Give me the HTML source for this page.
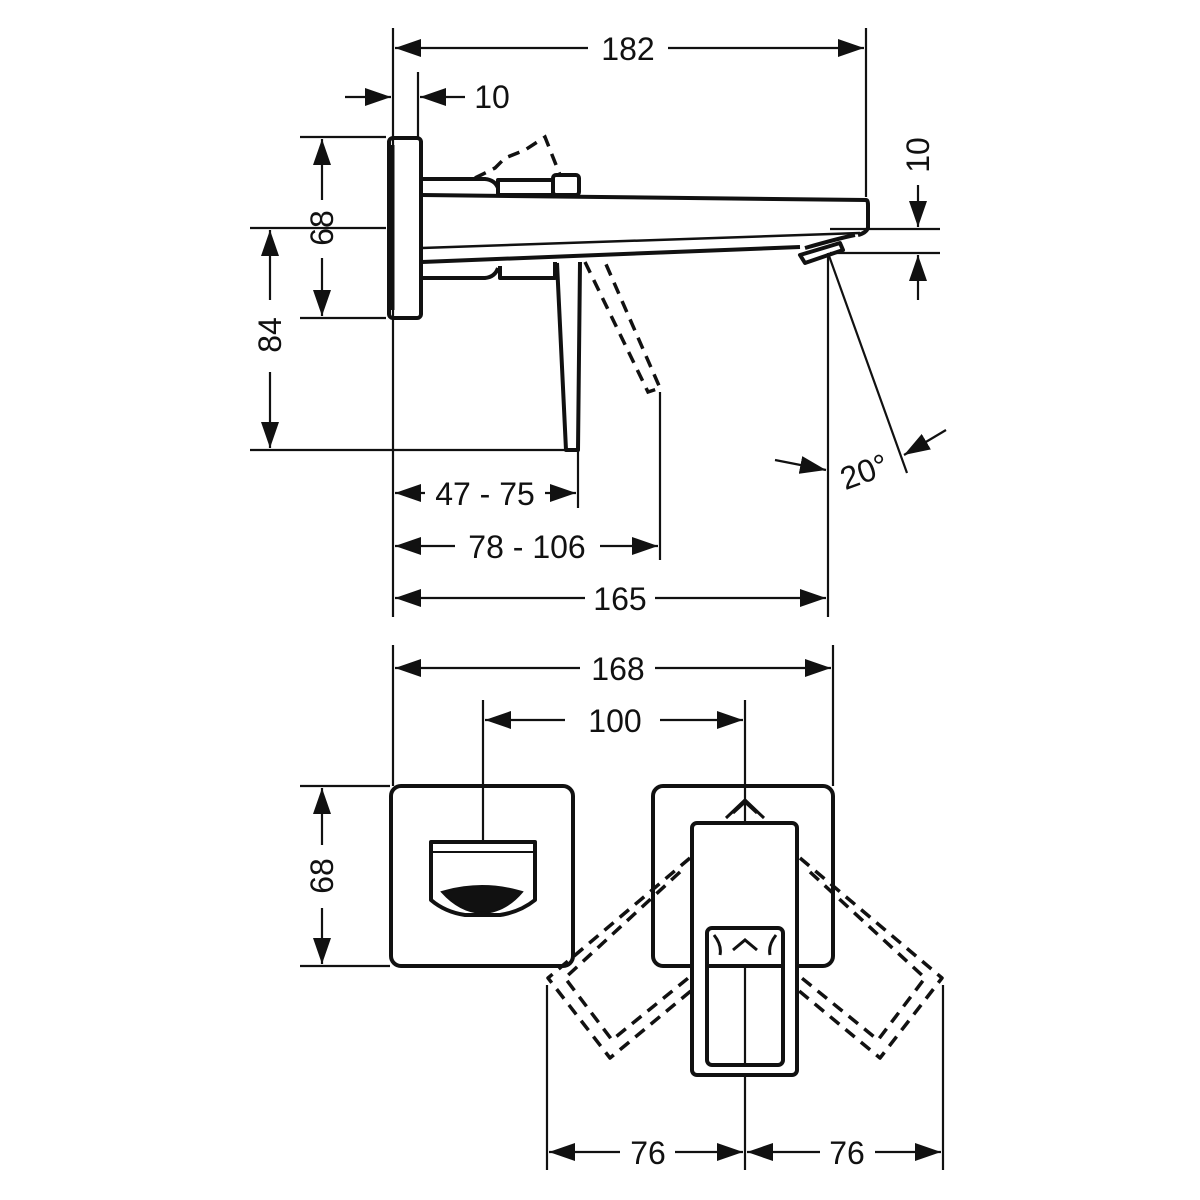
<!DOCTYPE html>
<html><head><meta charset="utf-8"><style>
html,body{margin:0;padding:0;background:#fff}
svg{display:block}
text{font-family:"Liberation Sans",sans-serif;font-size:32px;fill:#111}
</style></head><body>
<svg width="1200" height="1200" viewBox="0 0 1200 1200" xmlns="http://www.w3.org/2000/svg">
<defs>
<marker id="a" viewBox="0 0 26 18" refX="26" refY="9" markerWidth="26" markerHeight="18" markerUnits="userSpaceOnUse" orient="auto-start-reverse"><path d="M0,0 L26,9 L0,18 z" fill="#111"/></marker>
</defs>
<g stroke="#111" fill="none">
<g stroke-width="2.2">
<line x1="393" y1="28" x2="393" y2="617"/>
<line x1="866" y1="28" x2="866" y2="197"/>
<line x1="418" y1="72" x2="418" y2="137"/>
<line x1="300" y1="137" x2="386" y2="137"/>
<line x1="300" y1="318" x2="386" y2="318"/>
<line x1="250" y1="228" x2="386" y2="228"/>
<line x1="250" y1="450" x2="578" y2="450"/>
<line x1="578" y1="450" x2="578" y2="508"/>
<line x1="660" y1="392" x2="660" y2="560"/>
<line x1="828" y1="253" x2="828" y2="617"/>
<line x1="828" y1="253" x2="907" y2="473"/>
<line x1="830" y1="229" x2="940" y2="229"/>
<line x1="830" y1="253" x2="940" y2="253"/>
<line x1="393" y1="645" x2="393" y2="786"/>
<line x1="833" y1="645" x2="833" y2="786"/>
<line x1="483" y1="700" x2="483" y2="840"/>
<line x1="745" y1="700" x2="745" y2="1170"/>
<line x1="300" y1="786" x2="390" y2="786"/>
<line x1="300" y1="966" x2="390" y2="966"/>
<line x1="547" y1="985" x2="547" y2="1170"/>
<line x1="943" y1="985" x2="943" y2="1170"/>
</g>
<g stroke-width="2.2">
<line x1="588" y1="48" x2="395" y2="48" marker-end="url(#a)"/>
<line x1="668" y1="48" x2="864" y2="48" marker-end="url(#a)"/>
<line x1="345" y1="97" x2="391" y2="97" marker-end="url(#a)"/>
<line x1="465" y1="97" x2="420" y2="97" marker-end="url(#a)"/>
<line x1="322" y1="200" x2="322" y2="139" marker-end="url(#a)"/>
<line x1="322" y1="258" x2="322" y2="316" marker-end="url(#a)"/>
<line x1="270" y1="300" x2="270" y2="230" marker-end="url(#a)"/>
<line x1="270" y1="372" x2="270" y2="448" marker-end="url(#a)"/>
<line x1="918" y1="185" x2="918" y2="227" marker-end="url(#a)"/>
<line x1="918" y1="300" x2="918" y2="255" marker-end="url(#a)"/>
<line x1="775" y1="460" x2="826" y2="470" marker-end="url(#a)"/>
<line x1="946" y1="430" x2="904" y2="455" marker-end="url(#a)"/>
<line x1="425" y1="493" x2="395" y2="493" marker-end="url(#a)"/>
<line x1="545" y1="493" x2="576" y2="493" marker-end="url(#a)"/>
<line x1="455" y1="546" x2="395" y2="546" marker-end="url(#a)"/>
<line x1="600" y1="546" x2="658" y2="546" marker-end="url(#a)"/>
<line x1="585" y1="598" x2="395" y2="598" marker-end="url(#a)"/>
<line x1="655" y1="598" x2="826" y2="598" marker-end="url(#a)"/>
<line x1="580" y1="668" x2="395" y2="668" marker-end="url(#a)"/>
<line x1="655" y1="668" x2="831" y2="668" marker-end="url(#a)"/>
<line x1="565" y1="720" x2="485" y2="720" marker-end="url(#a)"/>
<line x1="660" y1="720" x2="743" y2="720" marker-end="url(#a)"/>
<line x1="322" y1="845" x2="322" y2="788" marker-end="url(#a)"/>
<line x1="322" y1="908" x2="322" y2="964" marker-end="url(#a)"/>
<line x1="620" y1="1152" x2="549" y2="1152" marker-end="url(#a)"/>
<line x1="675" y1="1152" x2="743" y2="1152" marker-end="url(#a)"/>
<line x1="820" y1="1152" x2="747" y2="1152" marker-end="url(#a)"/>
<line x1="875" y1="1152" x2="941" y2="1152" marker-end="url(#a)"/>
</g>
<g stroke-width="4" stroke-linejoin="round">
<rect x="389" y="138" width="32" height="180" rx="4"/>
<line x1="391" y1="145" x2="391" y2="310" stroke-width="7"/>
<path d="M422,179 L485,179 Q495,180 498,188 L498,195"/>
<rect x="498" y="180" width="55" height="15"/>
<rect x="553" y="175" width="26" height="20" rx="3"/>
<path d="M422,195 L866,200 Q868,200 868,205 L868,228 Q866,233 858,235"/>
<path d="M422,262 L800,247"/>
<path d="M500,266 L500,278 L555,278 L555,262"/>
<path d="M422,278 L485,278 Q495,277 498,268"/>
<path d="M800,255 L840,243 L843,250 L805,263 Z"/>
<path d="M805,248 Q840,238 855,235"/>
<path d="M557,263 L566,450 L578,450 L580,262"/>
</g>
<path d="M422,248 L860,233" stroke-width="2.5"/>
<g stroke-width="3.5" stroke-dasharray="12,8">
<path d="M475,178 L495,168 L505,158 L525,150 L545,137 L560,175"/>
<path d="M585,262 L648,392 L660,388 L605,262"/>
</g>
<g stroke-width="4" stroke-linejoin="round">
<rect x="391" y="786" width="182" height="180" rx="10"/>
<rect x="653" y="786" width="180" height="180" rx="10"/>
<path d="M431,842 L535,842 L535,900 Q520,912 500,915 L465,915 Q445,912 431,900 Z"/>
<rect x="692" y="823" width="105" height="252" rx="5" fill="#fff"/>
<rect x="707" y="928" width="76" height="137" rx="5"/>
<line x1="707" y1="966" x2="783" y2="966"/>
</g>
<line x1="745" y1="966" x2="745" y2="1065" stroke-width="2.2"/>
<path d="M433,852 L533,852" stroke-width="2"/>
<path d="M442,892 Q482,880 522,892 Q505,912 482,913 Q460,912 442,892 Z" fill="#111" stroke-width="2"/>
<path d="M733,813 L745,802 L757,813 M726,818 L745,800 L764,818" stroke-width="3"/>
<path d="M733,950 L745,940 L757,950" stroke-width="3"/>
<path d="M714,935 Q722,945 720,955 M776,935 Q768,945 770,955" stroke-width="3"/>
<g stroke-width="3.5" stroke-dasharray="12,8" stroke-linejoin="round">
<path d="M690,858 L548,978 L610,1058 L692,990"/>
<path d="M680,872 L565,978 L612,1040 L692,975"/>
<path d="M800,858 L942,978 L880,1058 L798,990"/>
<path d="M810,872 L925,978 L878,1040 L798,975"/>
</g>
</g>
<text x="628" y="60" text-anchor="middle">182</text>
<text x="492" y="108" text-anchor="middle">10</text>
<text transform="translate(333,228) rotate(-90)" text-anchor="middle">68</text>
<text transform="translate(281,335) rotate(-90)" text-anchor="middle">84</text>
<text transform="translate(929,155) rotate(-90)" text-anchor="middle">10</text>
<text transform="translate(868,482) rotate(-20)" text-anchor="middle">20°</text>
<text x="485" y="505" text-anchor="middle">47 - 75</text>
<text x="527" y="558" text-anchor="middle">78 - 106</text>
<text x="620" y="610" text-anchor="middle">165</text>
<text x="618" y="680" text-anchor="middle">168</text>
<text x="615" y="732" text-anchor="middle">100</text>
<text transform="translate(333,876) rotate(-90)" text-anchor="middle">68</text>
<text x="648" y="1164" text-anchor="middle">76</text>
<text x="847" y="1164" text-anchor="middle">76</text>
</svg>
</body></html>
